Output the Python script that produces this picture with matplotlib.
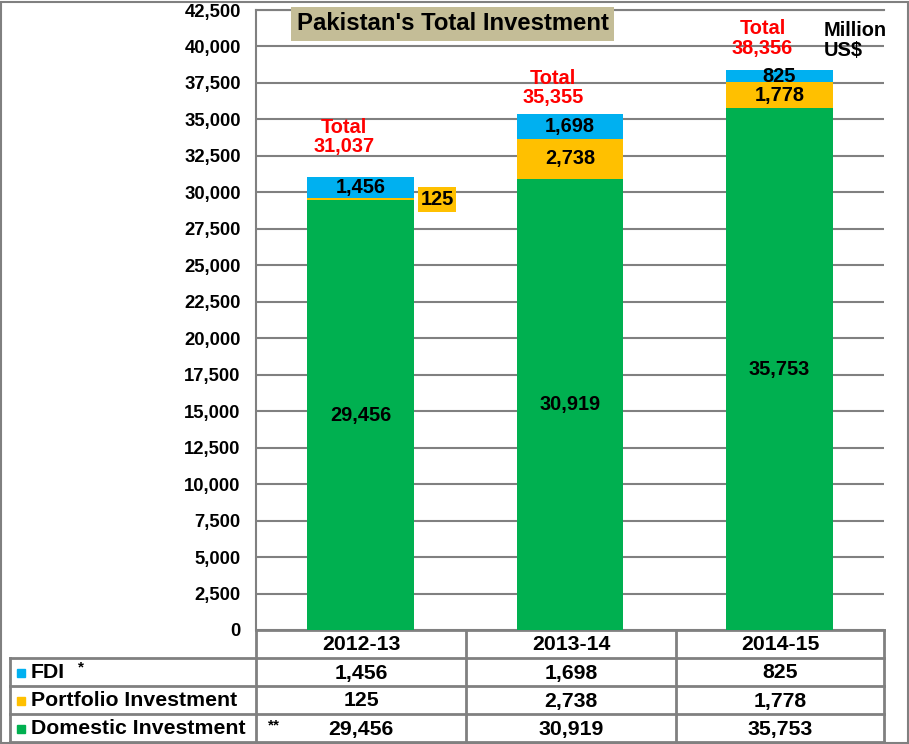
import matplotlib
matplotlib.use("Agg")
import matplotlib.pyplot as plt
import numpy as np

plt.rcParams['font.family'] = ['Liberation Sans', 'DejaVu Sans']
plt.rcParams['font.weight'] = 'bold'

# data
years = ["2012-13", "2013-14", "2014-15"]
fdi = [1456, 1698, 825]
portfolio = [125, 2738, 1778]
domestic = [29456, 30919, 35753]
totals = [31037, 35355, 38356]
series_names = ["FDI", "Portfolio Investment", "Domestic Investment"]
yticks = np.arange(0, 42501, 2500)

c_fdi = "#00B0F0"
c_port = "#FFC000"
c_dom = "#00B050"
grey = "#808080"

W, H = 909, 744
fig = plt.figure(figsize=(W / 100, H / 100), dpi=100)

# overlay in pixel coords for border and data table
ov = fig.add_axes([0, 0, 1, 1])
ov.set_xlim(0, W)
ov.set_ylim(H, 0)
ov.axis("off")
ov.add_patch(plt.Rectangle((1, 2), 907, 741, fill=False, ec=grey, lw=1.5))

# main chart area
L, R, T, B = 256, 884, 10, 630
ax = fig.add_axes([L / W, (H - B) / H, (R - L) / W, (B - T) / H])
x = np.arange(len(years))
bw = 0.51
ax.bar(x, domestic, bw, color=c_dom, zorder=3)
ax.bar(x, portfolio, bw, bottom=domestic, color=c_port, zorder=3)
bot2 = [d + p for d, p in zip(domestic, portfolio)]
ax.bar(x, fdi, bw, bottom=bot2, color=c_fdi, zorder=3)

ax.set_xlim(-0.5, 2.5)
ax.set_ylim(0, 42500)
ax.set_yticks(yticks)
ax.set_yticklabels([f"{v:,}" for v in yticks], fontsize=13.3, fontweight="bold")
ax.set_xticks([])
ax.tick_params(axis="y", length=0, pad=11)
ax.grid(axis="y", color=grey, lw=1.5, zorder=0)
for s in ["right", "bottom"]:
    ax.spines[s].set_visible(False)
for s in ["left", "top"]:
    ax.spines[s].set_color(grey)
    ax.spines[s].set_linewidth(1.5)

# segment labels
fs = 14.4
for i in range(len(years)):
    ax.text(x[i], domestic[i] / 2, f"{domestic[i]:,}", ha="center", va="center",
            fontsize=fs, fontweight="bold", zorder=5)
    ax.text(x[i], bot2[i] + fdi[i] / 2, f"{fdi[i]:,}", ha="center", va="center",
            fontsize=fs, fontweight="bold", zorder=5)
    if i == 0:
        ax.text(x[i] + bw / 2 + 0.03, domestic[i] + 50, f"{portfolio[i]:,}",
                ha="left", va="center", fontsize=fs, fontweight="bold", zorder=5,
                bbox=dict(fc=c_port, ec="none", pad=2))
    else:
        ax.text(x[i], domestic[i] + portfolio[i] / 2, f"{portfolio[i]:,}",
                ha="center", va="center", fontsize=fs, fontweight="bold", zorder=5)

# total labels
offs = [15, 5, 9]
for i in range(len(years)):
    ax.annotate(f"Total\n{totals[i]:,}", (x[i] - 0.08, totals[i]),
                xytext=(0, offs[i]), textcoords="offset points",
                ha="center", va="bottom", color="red", fontsize=fs,
                fontweight="bold", linespacing=1.05, zorder=5)

ax.text(2.21, 40400, "Million\nUS$", ha="left", va="center", fontsize=fs,
        fontweight="bold", linespacing=1.05)

ax.text(0.065, 0.978, "Pakistan's Total Investment", transform=ax.transAxes,
        ha="left", va="center", fontsize=17.2, fontweight="bold",
        bbox=dict(fc="#C4BD97", ec="none", pad=4), zorder=6)

# data table
cols = [256, 466, 676, 884]
rows = [630, 658, 686, 714, 742]
tl = 10
lw = 2
tfs = 15.3
ov.plot([cols[0], cols[-1]], [rows[0], rows[0]], color=grey, lw=lw)
for yy in rows[1:]:
    ov.plot([tl, cols[-1]], [yy, yy], color=grey, lw=lw)
for xx in cols:
    ov.plot([xx, xx], [rows[0], rows[-1]], color=grey, lw=lw)
ov.plot([tl, tl], [rows[1], rows[-1]], color=grey, lw=lw)

for j, yr in enumerate(years):
    ov.text((cols[j] + cols[j + 1]) / 2, (rows[0] + rows[1]) / 2 + 1, yr,
            ha="center", va="center", fontsize=tfs, fontweight="bold")

table_vals = [fdi, portfolio, domestic]
table_cols = [c_fdi, c_port, c_dom]
for r in range(3):
    yc = (rows[r + 1] + rows[r + 2]) / 2 + 1
    ov.add_patch(plt.Rectangle((17, yc - 4), 8, 8, color=table_cols[r]))
    ov.text(31, yc, series_names[r], ha="left", va="center",
            fontsize=tfs, fontweight="bold")
    for j in range(len(years)):
        ov.text((cols[j] + cols[j + 1]) / 2, yc, f"{table_vals[r][j]:,}",
                ha="center", va="center", fontsize=tfs, fontweight="bold")
ov.text(78, (rows[1] + rows[2]) / 2 - 5, "*", ha="left", va="center",
        fontsize=11, fontweight="bold")
ov.text(268, (rows[3] + rows[4]) / 2 - 3, "**", ha="left", va="center",
        fontsize=11, fontweight="bold")

fig.savefig("out.png", dpi=100)
